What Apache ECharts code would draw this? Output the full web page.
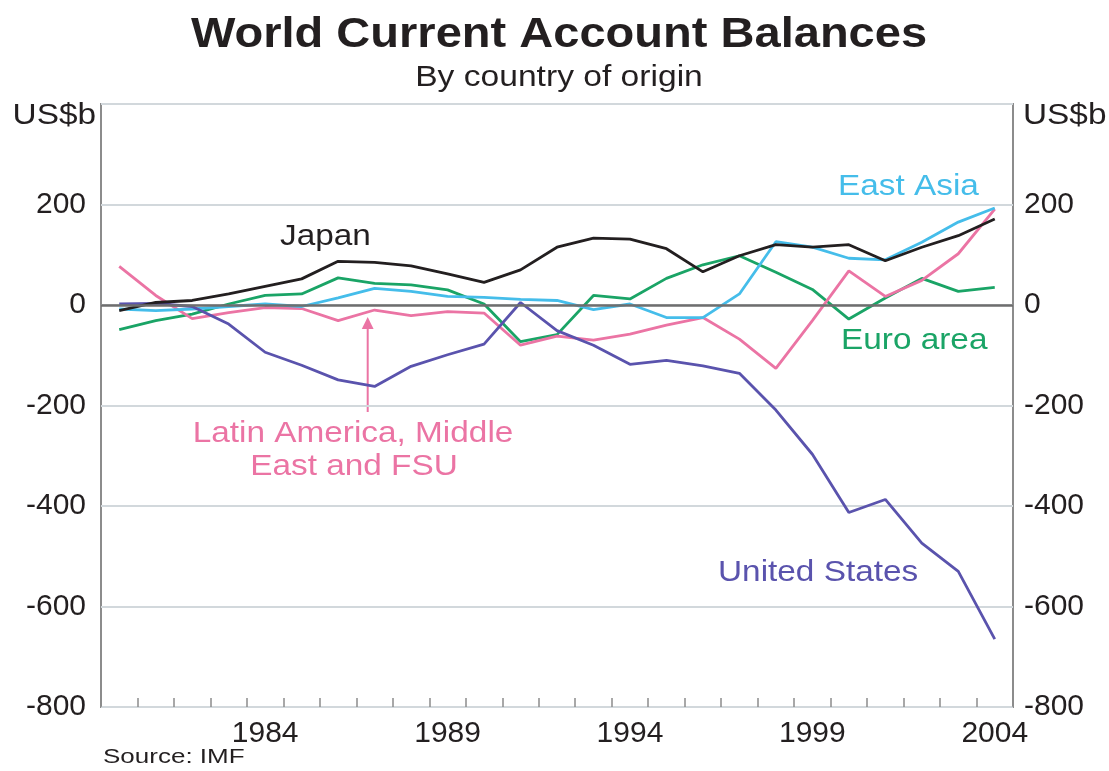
<!DOCTYPE html>
<html>
<head>
<meta charset="utf-8">
<script src="https://cdn.jsdelivr.net/npm/echarts@6/dist/echarts.min.js"></script>
<style>
	html, body { margin: 0; padding: 0; background: #fff; }
	#cn { width: 1109px; height: 771px; }
</style>
</head>
<body>
<div id="cn"></div>
<script>
'use strict';

const YEARS = ['1980', '1981', '1982', '1983', '1984', '1985', '1986', '1987', '1988', '1989', '1990', '1991', '1992',
	'1993', '1994', '1995', '1996', '1997', '1998', '1999', '2000', '2001', '2002', '2003', '2004'];

// US$b
const JAPAN = [-11, 5, 9, 22, 37, 52, 87, 85, 78, 62, 45, 70, 115, 133, 131, 112, 66, 98, 120, 115, 120, 88, 115, 138, 171];
const EAST_ASIA = [-8, -11, -8, -3, 2, -3, 14, 33, 27, 17, 15, 11, 9, -9, 2, -25, -25, 22, 126, 115, 93, 90, 125, 165, 193];
const EURO_AREA = [-49, -31, -18, 2, 19, 22, 54, 43, 40, 30, 2, -73, -59, 19, 12, 53, 80, 98, 65, 31, -28, 14, 53, 27, 35];
const LATAM_ME_FSU = [77, 19, -27, -15, -5, -7, -31, -10, -21, -13, -16, -80, -62, -70, -58, -40, -25, -68, -126, -31, 68, 17, 49, 102, 191];
const UNITED_STATES = [2, 3, -3, -38, -94, -120, -149, -162, -122, -99, -78, 5, -51, -80, -118, -110, -121, -136, -209, -297, -413, -387, -474, -530, -665];

const Y_MIN = -800;
const Y_MAX = 400;
const Y_STEP = 200;

const FONT = '"Liberation Sans", Arial, sans-serif';
const INK = '#231f20';
const GREY = '#8c8c8c';
const STRETCH = 1.15; // the picture is a little wide

const COL_JAPAN = '#231f20';
const COL_ASIA = '#45bdea';
const COL_EURO = '#1aa466';
const COL_LATAM = '#eb74a4';
const COL_US = '#5a53ad';

const yLabel = v => (v === Y_MAX ? '' : String(v));

const makeYAxis = (pos) => ({
	type: 'value',
	position: pos,
	min: Y_MIN,
	max: Y_MAX,
	interval: Y_STEP,
	axisLine: { show: false },
	axisTick: { show: false },
	splitLine: { show: pos === 'left', lineStyle: { color: '#d2d8dc', width: 2 } },
	axisLabel: {
		formatter: yLabel,
		color: INK,
		fontFamily: FONT,
		fontSize: 30,
		margin: pos === 'left' ? 15 : 11
	}
});

const makeLine = (name, data, color, extra) => Object.assign({
	name: name,
	type: 'line',
	data: data,
	symbol: 'none',
	lineStyle: { color: color, width: 2.8 },
	itemStyle: { color: color },
	animation: false
}, extra || {});

// free text, x/y = anchor, vertical middle
const txt = (text, x, y, size, color, align, weight, sx) => ({
	type: 'text',
	x: x,
	y: y,
	scaleX: sx || STRETCH,
	style: {
		text: text,
		fill: color,
		fontSize: size,
		fontFamily: FONT,
		fontWeight: weight || 'normal',
		align: align || 'left',
		verticalAlign: 'middle'
	}
});

let pandaChart = echarts.init(document.getElementById('cn'));

let option = {
	backgroundColor: '#fff',
	animation: false,
	grid: {
		left: 101,
		right: 96,
		top: 104,
		bottom: 64,
		show: true,
		borderColor: GREY,
		borderWidth: 2,
		containLabel: false
	},
	xAxis: {
		type: 'category',
		data: YEARS,
		boundaryGap: true,
		axisLine: { show: false, onZero: false },
		axisTick: { show: true, inside: true, length: 9, interval: 0, lineStyle: { color: GREY, width: 1.5 } },
		axisLabel: {
			interval: (i) => i % 5 === 4,
			color: INK,
			fontFamily: FONT,
			fontSize: 30,
			margin: 12
		},
		splitLine: { show: false }
	},
	yAxis: [makeYAxis('left'), makeYAxis('right')],
	series: [
		makeLine('Euro area', EURO_AREA, COL_EURO, {
			markLine: {
				silent: true,
				symbol: 'none',
				label: { show: false },
				lineStyle: { color: '#6e6e6e', width: 2.5, type: 'solid' },
				data: [{ yAxis: 0 }]
			}
		}),
		makeLine('Latin America, Middle East and FSU', LATAM_ME_FSU, COL_LATAM),
		makeLine('East Asia', EAST_ASIA, COL_ASIA),
		makeLine('United States', UNITED_STATES, COL_US),
		makeLine('Japan', JAPAN, COL_JAPAN)
	],
	graphic: [
		txt('World Current Account Balances', 559, 35, 42, INK, 'center', 'bold', 1.12),
		txt('By country of origin', 559, 78, 30, INK, 'center', 'normal', 1.12),
		txt('US$b', 96, 116, 29, INK, 'right'),
		txt('US$b', 1023, 116, 29, INK, 'left'),
		txt('Source: IMF', 103, 757, 20, INK, 'left', 'normal', 1.3),
		txt('Japan', 280, 237, 29, COL_JAPAN),
		txt('East Asia', 838, 187, 29, COL_ASIA),
		txt('Euro area', 841, 341, 29, COL_EURO),
		txt('United States', 718, 573, 29, COL_US),
		txt('Latin America, Middle', 353, 434, 29, COL_LATAM, 'center'),
		txt('East and FSU', 354, 467, 29, COL_LATAM, 'center'),
		{ type: 'line', shape: { x1: 367.7, y1: 326, x2: 367.7, y2: 412 }, style: { stroke: COL_LATAM, lineWidth: 2 } },
		{ type: 'polygon', shape: { points: [[367.7, 317], [361.8, 329], [373.6, 329]] }, style: { fill: COL_LATAM } }
	]
};

pandaChart.setOption(option);
</script>
</body>
</html>
